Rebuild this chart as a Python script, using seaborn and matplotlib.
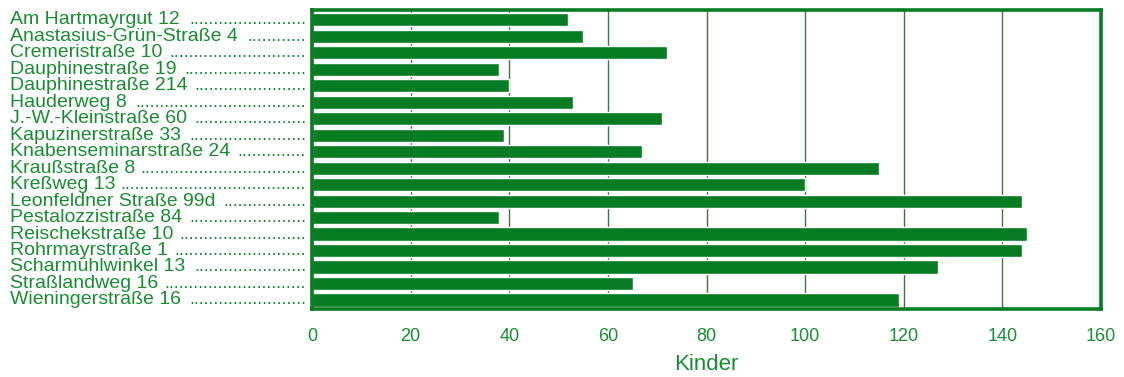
import matplotlib
matplotlib.use("Agg")
import matplotlib.pyplot as plt
import matplotlib.transforms as mtransforms
import seaborn as sns
import pandas as pd

streets = [
    "Am Hartmayrgut 12", "Anastasius-Grün-Straße 4", "Cremeristraße 10",
    "Dauphinestraße 19", "Dauphinestraße 214", "Hauderweg 8",
    "J.-W.-Kleinstraße 60", "Kapuzinerstraße 33", "Knabenseminarstraße 24",
    "Kraußstraße 8", "Kreßweg 13", "Leonfeldner Straße 99d",
    "Pestalozzistraße 84", "Reischekstraße 10", "Rohrmayrstraße 1",
    "Scharmühlwinkel 13", "Straßlandweg 16", "Wieningerstraße 16",
]
kinder = [52, 55, 72, 38, 40, 53, 71, 39, 67, 115, 100, 144, 38, 145, 144, 127, 65, 119]
x_ticks = [0, 20, 40, 60, 80, 100, 120, 140, 160]
x_label = "Kinder"

BAR = "#087c22"
TEXT = "#1a8c34"
GRID = "#3f7445"

sns.set_theme(style="white")
plt.rcParams["font.family"] = ["Liberation Sans", "DejaVu Sans"]

df = pd.DataFrame({"Straße": streets, "Kinder": kinder})

fig = plt.figure(figsize=(11.24, 3.77), dpi=100)
ax = fig.add_axes([312 / 1124, 1 - 309 / 377, (1101 - 312) / 1124, (309 - 10) / 377])

sns.barplot(data=df, y="Straße", x="Kinder", orient="h", color=BAR,
            saturation=1, width=0.8, ax=ax, zorder=2)

ax.set_xlim(0, 160)
ax.set_ylim(len(streets) - 0.45, -0.6)
ax.set_xticks(x_ticks)
ax.set_xticklabels([str(t) for t in x_ticks], color=TEXT, fontsize=13)
ax.tick_params(axis="x", length=0, pad=14)
ax.tick_params(axis="y", length=0)
ax.set_yticklabels([])
ax.set_ylabel("")
ax.set_xlabel(x_label, color=TEXT, fontsize=16, labelpad=6)

ax.set_axisbelow(True)
ax.xaxis.grid(True, color=GRID, linewidth=1.0)
ax.yaxis.grid(False)
for s in ax.spines.values():
    s.set_visible(True)
    s.set_color(BAR)
    s.set_linewidth(2.6)

# street labels with dotted leaders
trans = mtransforms.blended_transform_factory(fig.transFigure, ax.transData)
fig.canvas.draw()
renderer = fig.canvas.get_renderer()
FS = 14
probe = fig.text(0, 0, "." * 40, fontsize=FS - 1)
dot_w = probe.get_window_extent(renderer).width / 40
probe.remove()
x_left = 10 / 1124
x_end_px = 306
for i, name in enumerate(streets):
    t = ax.text(x_left, i, name, transform=trans, ha="left", va="center",
                color=TEXT, fontsize=FS)
    ext = t.get_window_extent(renderer)
    avail = x_end_px - ext.x1 - 5
    n = max(int(avail / dot_w), 0)
    ax.text(x_end_px / 1124, i, "." * n, transform=trans, ha="right", va="center",
            color=TEXT, fontsize=FS - 1)

fig.savefig("out.png", dpi=100)
